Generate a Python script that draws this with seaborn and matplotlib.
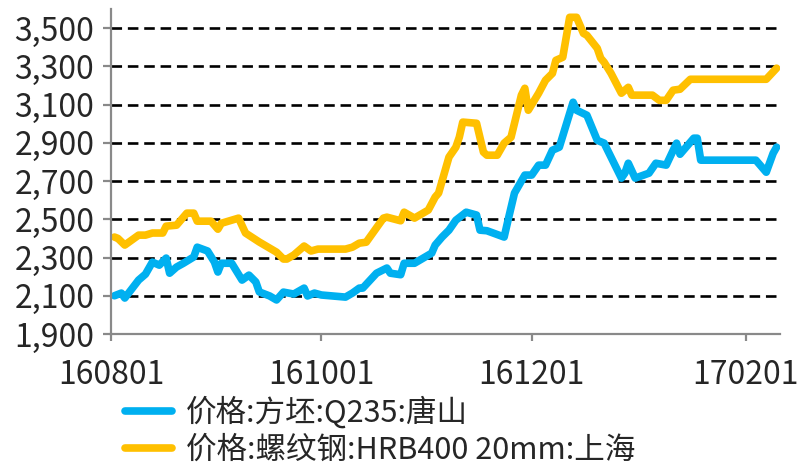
import pandas as pd
import matplotlib
matplotlib.use("Agg")
import matplotlib.pyplot as plt
import matplotlib.dates as mdates
import matplotlib.ticker as mticker
import seaborn as sns

# 方坯 Q235 唐山
billet_dates = [
    "2016-08-02", "2016-08-04", "2016-08-05", "2016-08-09", "2016-08-11", "2016-08-13",
    "2016-08-15", "2016-08-17", "2016-08-18", "2016-08-20", "2016-08-22", "2016-08-25",
    "2016-08-26", "2016-08-29", "2016-08-31", "2016-09-01", "2016-09-02", "2016-09-05",
    "2016-09-08", "2016-09-10", "2016-09-12", "2016-09-13", "2016-09-16", "2016-09-18",
    "2016-09-20", "2016-09-23", "2016-09-26", "2016-09-27", "2016-09-29", "2016-10-01",
    "2016-10-08", "2016-10-10", "2016-10-12", "2016-10-13", "2016-10-17", "2016-10-20",
    "2016-10-21", "2016-10-24", "2016-10-25", "2016-10-28", "2016-11-02", "2016-11-03",
    "2016-11-05", "2016-11-07", "2016-11-09", "2016-11-12", "2016-11-15", "2016-11-16",
    "2016-11-18", "2016-11-23", "2016-11-24", "2016-11-26", "2016-11-29", "2016-12-01",
    "2016-12-03", "2016-12-05", "2016-12-07", "2016-12-09", "2016-12-13", "2016-12-14",
    "2016-12-17", "2016-12-20", "2016-12-22", "2016-12-23", "2016-12-27", "2016-12-28",
    "2016-12-29", "2016-12-31", "2017-01-04", "2017-01-06", "2017-01-09", "2017-01-12",
    "2017-01-13", "2017-01-17", "2017-01-18", "2017-01-19", "2017-02-04", "2017-02-07",
    "2017-02-09", "2017-02-10",
]
billet_prices = [
    2100, 2114, 2088, 2182, 2213, 2276,
    2260, 2297, 2218, 2250, 2270, 2303,
    2354, 2334, 2276, 2224, 2270, 2270,
    2182, 2208, 2172, 2120, 2099, 2078,
    2119, 2109, 2140, 2099, 2114, 2104,
    2093, 2114, 2140, 2140, 2218, 2245,
    2218, 2210, 2270, 2270, 2323, 2365,
    2407, 2443, 2495, 2537, 2522, 2443,
    2440, 2407, 2485, 2637, 2731, 2731,
    2783, 2783, 2861, 2877, 3112, 3070,
    3044, 2913, 2898, 2861, 2715, 2741,
    2793, 2715, 2741, 2793, 2783, 2898,
    2840, 2924, 2924, 2809, 2809, 2746,
    2845, 2877,
]

# 螺纹钢 HRB400 20mm 上海
rebar_dates = [
    "2016-08-02", "2016-08-03", "2016-08-05", "2016-08-09", "2016-08-11", "2016-08-13",
    "2016-08-16", "2016-08-17", "2016-08-20", "2016-08-23", "2016-08-25", "2016-08-26",
    "2016-08-30", "2016-09-01", "2016-09-02", "2016-09-07", "2016-09-09", "2016-09-13",
    "2016-09-18", "2016-09-20", "2016-09-21", "2016-09-23", "2016-09-26", "2016-09-28",
    "2016-09-30", "2016-10-08", "2016-10-10", "2016-10-12", "2016-10-14", "2016-10-19",
    "2016-10-20", "2016-10-24", "2016-10-25", "2016-10-28", "2016-11-01", "2016-11-03",
    "2016-11-04", "2016-11-07", "2016-11-09", "2016-11-10", "2016-11-11", "2016-11-15",
    "2016-11-17", "2016-11-18", "2016-11-21", "2016-11-23", "2016-11-25", "2016-11-26",
    "2016-11-28", "2016-11-29", "2016-11-30", "2016-12-03", "2016-12-05", "2016-12-07",
    "2016-12-08", "2016-12-10", "2016-12-12", "2016-12-14", "2016-12-16", "2016-12-17",
    "2016-12-20", "2016-12-21", "2016-12-22", "2016-12-24", "2016-12-27", "2016-12-29",
    "2016-12-30", "2017-01-05", "2017-01-07", "2017-01-09", "2017-01-11", "2017-01-13",
    "2017-01-16", "2017-02-07", "2017-02-10",
]
rebar_prices = [
    2407, 2400, 2365, 2417, 2417, 2428,
    2428, 2464, 2469, 2532, 2532, 2490,
    2490, 2448, 2479, 2506, 2428, 2381,
    2328, 2292, 2292, 2313, 2360, 2334,
    2344, 2344, 2354, 2375, 2380, 2506,
    2511, 2492, 2537, 2506, 2548, 2616,
    2637, 2825, 2877, 2929, 3008, 3002,
    2851, 2835, 2835, 2898, 2929, 3002,
    3149, 3185, 3070, 3159, 3227, 3263,
    3331, 3347, 3556, 3556, 3472, 3462,
    3394, 3342, 3321, 3263, 3159, 3190,
    3149, 3149, 3122, 3122, 3175, 3180,
    3232, 3232, 3290,
]

series_names = ["价格:方坯:Q235:唐山", "价格:螺纹钢:HRB400 20mm:上海"]
series_colors = ["#00B0F0", "#FFC000"]
y_ticks = [1900, 2100, 2300, 2500, 2700, 2900, 3100, 3300, 3500]

df = pd.concat([
    pd.DataFrame({"date": pd.to_datetime(billet_dates), "price": billet_prices, "series": series_names[0]}),
    pd.DataFrame({"date": pd.to_datetime(rebar_dates), "price": rebar_prices, "series": series_names[1]}),
], ignore_index=True)

sns.set_style("white")
plt.rcParams["font.family"] = ["Noto Sans CJK SC", "DejaVu Sans"]

fig = plt.figure(figsize=(8.02, 4.68), dpi=100)
ax = fig.add_axes([0.1384, 0.2863, 0.8342, 0.6947])

sns.lineplot(data=df, x="date", y="price", hue="series", hue_order=series_names,
             palette=series_colors, linewidth=5.5, ax=ax, legend=False,
             solid_joinstyle="round", solid_capstyle="round")

ax.set_xlim(pd.Timestamp("2016-08-01"), pd.Timestamp("2017-02-11"))
ax.set_ylim(1900, 3600)
ax.set_yticks(y_ticks)
ax.yaxis.set_major_formatter(mticker.StrMethodFormatter("{x:,.0f}"))
ax.xaxis.set_major_locator(mdates.MonthLocator(bymonth=[2, 4, 6, 8, 10, 12]))
ax.xaxis.set_major_formatter(mdates.DateFormatter("%y%m%d"))
ax.set_xlabel("")
ax.set_ylabel("")

ax.grid(axis="y", color="black", linestyle=(0, (4, 2.2)), linewidth=1.9)
ax.grid(axis="x", visible=False)
ax.set_axisbelow(True)

for s in ["top", "right"]:
    ax.spines[s].set_visible(False)
for s in ["left", "bottom"]:
    ax.spines[s].set_color("#898989")
    ax.spines[s].set_linewidth(1.6)

ax.tick_params(axis="y", which="major", direction="out", length=6, width=1.6,
               color="#898989", labelsize=23, pad=6, left=True)
ax.tick_params(axis="x", which="major", direction="out", length=5, width=1.6,
               color="#898989", labelsize=23, pad=13, bottom=True)

handles = [plt.Line2D([], [], color=c, linewidth=5.5) for c in series_colors]
ax.legend(handles, series_names, loc="upper left", bbox_to_anchor=(0.021, -0.19),
          frameon=False, fontsize=22, handlelength=1.55, handletextpad=0.45,
          labelspacing=0.2, borderaxespad=0, borderpad=0)

fig.savefig("out.png", dpi=100)
